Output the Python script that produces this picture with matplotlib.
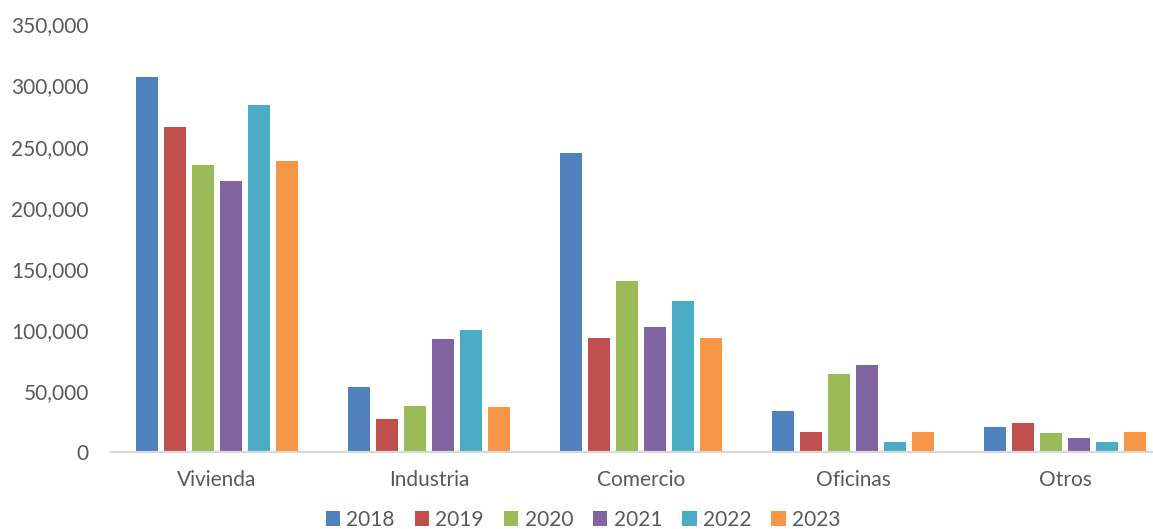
import matplotlib
matplotlib.use("Agg")
import matplotlib.pyplot as plt
import numpy as np
from matplotlib.patches import Patch
from matplotlib.ticker import FuncFormatter

categories = ["Vivienda", "Industria", "Comercio", "Oficinas", "Otros"]
years = ["2018", "2019", "2020", "2021", "2022", "2023"]
v2018 = [306800, 53300, 245100, 33300, 20500]
v2019 = [265800, 27000, 93700, 16100, 23800]
v2020 = [235200, 37400, 140200, 63900, 15600]
v2021 = [222100, 92600, 102200, 71000, 11500]
v2022 = [284200, 100200, 123800, 8500, 8200]
v2023 = [238300, 36900, 93200, 16400, 16400]
series = [v2018, v2019, v2020, v2021, v2022, v2023]
colors = ["#4F81BD", "#C0504D", "#9BBB59", "#8064A2", "#4BACC6", "#F79646"]

plt.rcParams['font.family'] = ['Lato', 'DejaVu Sans']
fig = plt.figure(figsize=(11.53, 5.29), dpi=100)
ax = fig.add_axes([111/1153, 77/529, 1060/1153, (452-24.5)/529])

x = np.arange(len(categories))
step = 0.132
bw = 0.108
for i, (vals, c) in enumerate(zip(series, colors)):
    ax.bar(x + (i - 2.5) * step, vals, width=bw, color=c, zorder=2)

ax.set_xlim(-0.5, len(categories) - 0.5)
ax.set_ylim(0, 350000)
ax.set_yticks(np.arange(0, 350001, 50000))
ax.yaxis.set_major_formatter(FuncFormatter(lambda v, p: f"{int(v):,}"))
ax.set_xticks(x)
ax.set_xticklabels(categories)
for s in ["top", "right", "left"]:
    ax.spines[s].set_visible(False)
ax.spines["bottom"].set_color("#D9D9D9")
ax.spines["bottom"].set_linewidth(1.6)
ax.tick_params(axis="y", length=0, pad=16, labelsize=15, labelcolor="#595959")
ax.tick_params(axis="x", length=0, pad=13, labelsize=15, labelcolor="#595959")

handles = [Patch(facecolor=c, label=y) for c, y in zip(colors, years)]
fig.legend(handles=handles, loc="center", bbox_to_anchor=(583/1153, 9/529), ncol=6,
           frameon=False, fontsize=15, handlelength=0.7, handleheight=0.7,
           handletextpad=0.3, columnspacing=0.95, labelcolor="#595959")

fig.savefig("out.png", dpi=100)
